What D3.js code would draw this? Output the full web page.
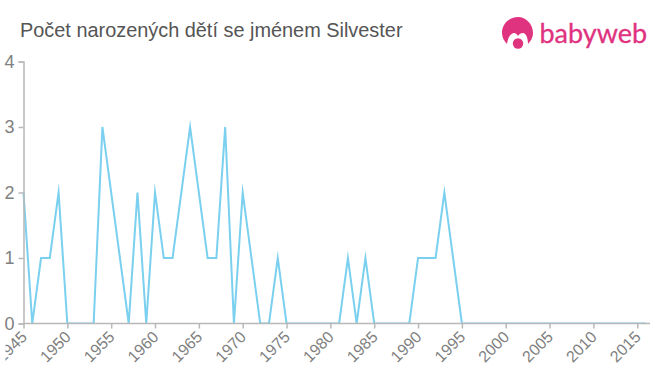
<!DOCTYPE html>
<html>
<head>
<meta charset="utf-8">
<script src="https://cdn.jsdelivr.net/npm/d3@7"></script>
<style>
html, body { margin: 0; padding: 0; background: #fff; }
svg { display: block; font-family: "Liberation Sans", Arial, sans-serif; }
</style>
</head>
<body>
<script>
const title = "Počet narozených dětí se jménem Silvester";
const years = d3.range(1945, 2017);
const counts = [2,0,1,1,2,0,0,0,0,3,2,1,0,2,0,2,1,1,2,3,2,1,1,3,0,2,1,0,0,1,0,0,0,0,0,0,0,1,0,1,0,0,0,0,0,1,1,1,2,1,0,0,0,0,0,0,0,0,0,0,0,0,0,0,0,0,0,0,0,0,0,0];
const yTicks = [0,1,2,3,4];
const xTicks = d3.range(1945, 2016, 5);

const width = 660, height = 375;

const x = d3.scaleLinear().domain([1945, 2016]).range([23.5, 646]);
const y = d3.scaleLinear().domain([0, 4]).range([323.5, 61.5]);

const svg = d3.select("body").append("svg")
    .attr("width", width)
    .attr("height", height)
    .attr("viewBox", "0 0 " + width + " " + height);

svg.append("text")
    .attr("x", 20)
    .attr("y", 37)
    .attr("fill", "#555555")
    .style("font-size", "19.9px")
    .text(title);

// Series line is cut at the zero line, the axes go on top of it
svg.append("clipPath")
    .attr("id", "plot-clip")
    .append("rect")
    .attr("x", 0)
    .attr("y", 0)
    .attr("width", width)
    .attr("height", y(0));

// The first year label runs off the left margin in the original
svg.append("clipPath")
    .attr("id", "label-clip")
    .append("rect")
    .attr("x", 5.5)
    .attr("y", -10)
    .attr("width", width)
    .attr("height", 70);

const line = d3.line()
    .x(function(d, i){ return x(years[i]); })
    .y(function(d){ return y(d); });

svg.append("path")
    .datum(counts)
    .attr("clip-path", "url(#plot-clip)")
    .attr("fill", "none")
    .attr("stroke", "#7ad0ee")
    .attr("stroke-width", 2)
    .attr("stroke-miterlimit", 10.5)
    .attr("d", line);

// Axes
const xAxis = svg.append("g")
    .attr("transform", "translate(0," + y(0) + ")")
    .attr("clip-path", "url(#label-clip)")
    .call(d3.axisBottom(x).tickValues(xTicks).tickFormat(d3.format("d")).tickSize(5));
xAxis.select(".domain").attr("d", "M" + x(1945) + ",0H650");
xAxis.selectAll("text")
    .attr("x", 0)
    .attr("y", 0)
    .attr("dy", "0.35em")
    .attr("transform", "translate(0,10.5) rotate(-45)")
    .attr("text-anchor", "end")
    .style("font-size", "16px");

const yAxis = svg.append("g")
    .attr("transform", "translate(" + x(1945) + ",0)")
    .call(d3.axisLeft(y).tickValues(yTicks).tickFormat(d3.format("d")).tickSize(5).tickPadding(4));
yAxis.selectAll("text").style("font-size", "18px");

svg.selectAll(".domain, .tick line")
    .attr("stroke", "#b8b8b8")
    .attr("stroke-width", 1.5);
svg.selectAll(".tick text")
    .attr("fill", "#808080")
    .style("font-family", "\"Liberation Sans\", Arial, sans-serif");

// Logo
const logo = svg.append("g").attr("fill", "#e0337f");
logo.append("path")
    .attr("d", "M507,44 C504,41 502,37 502,33 C502,24 509,17 518,17 C526,17 533,24 533,33 C533,37 531,41 528,44 C528,38 526,33 523,33 C521,33 519,34 518,36 C517,34 515.5,33 514,33 C511,33 508,37 507,44 Z");
logo.append("circle").attr("cx", 518).attr("cy", 43.5).attr("r", 5.2);
logo.append("text")
    .attr("x", 539.5)
    .attr("y", 43)
    .attr("stroke", "#e0337f")
    .attr("stroke-width", 0.3)
    .style("font-family", "Lato, sans-serif")
    .style("font-size", "27px")
    .text("babyweb");
</script>
</body>
</html>
